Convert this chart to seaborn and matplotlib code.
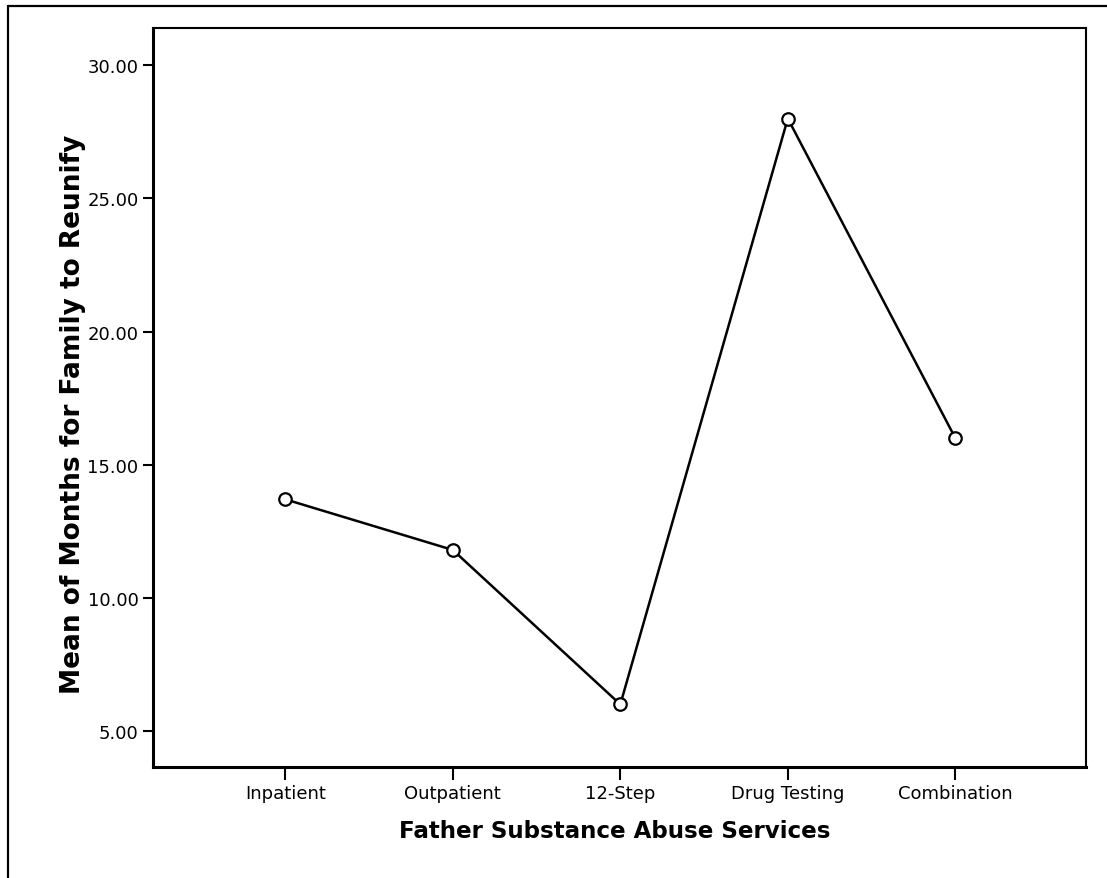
import matplotlib
matplotlib.use("Agg")
import matplotlib.pyplot as plt
import seaborn as sns
import pandas as pd
from matplotlib.lines import Line2D

services = ["Inpatient", "Outpatient", "12-Step", "Drug Testing", "Combination"]
mean_months = [13.7, 11.8, 6.0, 28.0, 16.0]
y_ticks = [5, 10, 15, 20, 25, 30]

df = pd.DataFrame({"service": services, "months": mean_months})

sns.set_style("white")
plt.rcParams["font.family"] = ["DejaVu Sans"]
plt.rcParams["text.color"] = "black"
plt.rcParams["axes.labelcolor"] = "black"

fig = plt.figure(figsize=(11.07, 8.79), dpi=100)
ax = fig.add_axes([0.1382, 0.1263, 0.8428, 0.8407])

sns.lineplot(data=df, x="service", y="months", ax=ax, color="black",
             linewidth=1.8, marker="o", markersize=9,
             markerfacecolor="white", markeredgecolor="black", markeredgewidth=1.6)

ax.set_xlim(-0.79, 4.78)
ax.set_ylim(3.65, 31.4)
ax.set_yticks(y_ticks)
ax.set_yticklabels([f"{v:.2f}" for v in y_ticks])

for s in ax.spines.values():
    s.set_color("black")
    s.set_linewidth(1.5)
ax.spines["left"].set_linewidth(2.2)
ax.spines["bottom"].set_linewidth(2.2)

ax.tick_params(axis="y", direction="out", length=7, width=1.5, labelsize=13, pad=3.5,
               left=True, colors="black")
ax.tick_params(axis="x", direction="out", length=9, width=1.5, labelsize=13, pad=3,
               bottom=True, colors="black")

ax.set_xlabel("Father Substance Abuse Services", fontsize=16.6, fontweight="bold")
ax.set_ylabel("Mean of Months for Family to Reunify", fontsize=19, fontweight="bold")
ax.xaxis.set_label_coords(0.495, -0.07)
ax.yaxis.set_label_coords(-0.072, 0.478)

# outer frame (only top and left sides visible in the original crop)
fig.add_artist(Line2D([0.0072, 1.0], [1 - 6.5 / 879, 1 - 6.5 / 879], transform=fig.transFigure,
                      color="black", linewidth=1.6))
fig.add_artist(Line2D([0.0072, 0.0072], [0.0, 1 - 6.5 / 879], transform=fig.transFigure,
                      color="black", linewidth=1.6))

fig.savefig("out.png", dpi=100)
